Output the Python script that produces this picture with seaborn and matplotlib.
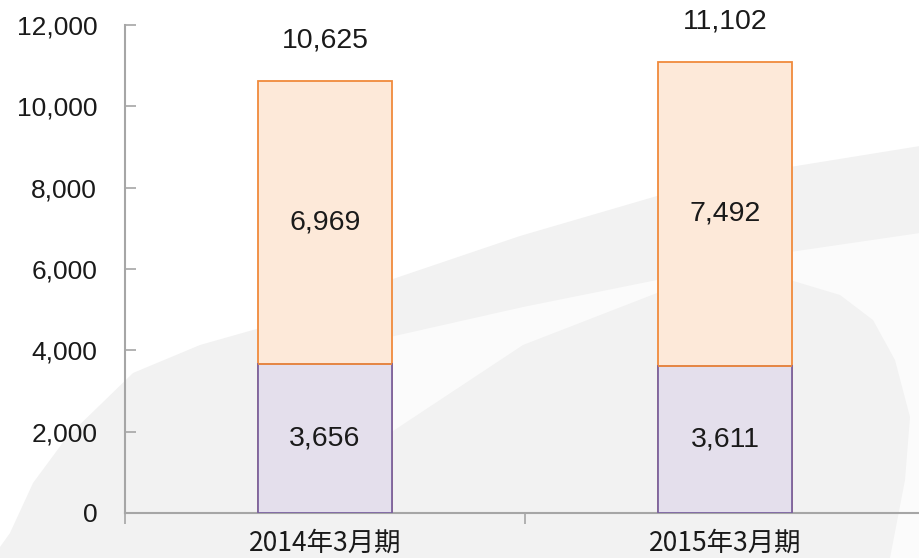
import numpy as np
import pandas as pd
import matplotlib
matplotlib.use('Agg')
import matplotlib.pyplot as plt
from matplotlib.patches import Polygon
import seaborn as sns

# --- data ---
periods = ['2014年3月期', '2015年3月期']
lower_vals = [3656, 3611]
upper_vals = [6969, 7492]
totals = [10625, 11102]

df = pd.DataFrame({'period': periods, 'lower': lower_vals,
                   'upper': upper_vals, 'total': totals})

sns.set_style('white')
plt.rcParams['font.family'] = ['Liberation Sans', 'DejaVu Sans']

W, H = 920, 558
fig = plt.figure(figsize=(W / 100, H / 100), dpi=100, facecolor='white')

# --- decorative swoosh background, drawn on its own axes behind the chart ---
bg = fig.add_axes([0, 0, 1, 1], zorder=-1)
bg.set_xlim(0, W); bg.set_ylim(H, 0); bg.axis('off')

gray_shape = [(0, 547), (10, 533), (33, 483), (67, 437), (133, 373), (200, 345),
              (260, 328), (390, 280), (520, 236), (657, 196), (790, 167),
              (920, 146), (920, 558), (0, 558)]
white_band = [(280, 420), (390, 337), (523, 307), (657, 280), (790, 252),
              (920, 233), (920, 558), (890, 558), (905, 480), (910, 417),
              (895, 360), (873, 320), (840, 295), (790, 280), (720, 283),
              (657, 293), (523, 345), (390, 433)]
bg.add_patch(Polygon(gray_shape, closed=True, facecolor='#f2f2f2', edgecolor='none'))
bg.add_patch(Polygon(white_band, closed=True, facecolor='#fbfbfb', edgecolor='none'))

ax = fig.add_axes([125 / W, (H - 513) / H, 800 / W, (513 - 25) / H])
ax.set_facecolor('none')

bar_w = 0.335
sns.barplot(data=df, x='period', y='total', color='#fde9d9', saturation=1,
            edgecolor='#f08a3c', linewidth=1.3, width=bar_w, ax=ax, zorder=2)
n_top = len(ax.patches)
sns.barplot(data=df, x='period', y='lower', color='#e4dfec', saturation=1,
            edgecolor='#7a62a0', linewidth=1.3, width=bar_w, ax=ax, zorder=3)
low_patches = ax.patches[n_top:]

# orange divider between the two segments
for p in low_patches:
    ax.plot([p.get_x(), p.get_x() + p.get_width()], [p.get_height()] * 2,
            color='#f08a3c', lw=1.3, zorder=4, solid_capstyle='butt')

# segment labels
for i in range(len(periods)):
    ax.text(i, lower_vals[i] / 2, f'{lower_vals[i]:,}', ha='center', va='center',
            fontsize=20.5, color='#1a1a1a', zorder=5)
    ax.text(i, lower_vals[i] + upper_vals[i] / 2, f'{upper_vals[i]:,}', ha='center',
            va='center', fontsize=20.5, color='#1a1a1a', zorder=5)
    ax.annotate(f'{totals[i]:,}', (i, totals[i]), xytext=(0, 29),
                textcoords='offset points', ha='center', va='center',
                fontsize=20.5, color='#1a1a1a', zorder=5, annotation_clip=False)

ax.set_xlim(-0.5, 1.5)
ax.set_ylim(0, 12000)
ax.set_yticks(np.arange(0, 12001, 2000))
ax.set_yticklabels([f'{v:,}' for v in range(0, 12001, 2000)])
ax.tick_params(axis='y', left=True, direction='in', length=8, width=1.2,
               color='#a6a6a6', labelsize=19, pad=20, labelcolor='#1a1a1a')

ax.set_xticks(range(len(periods)))
ax.set_xticklabels(periods, family=['Noto Sans CJK JP', 'DejaVu Sans'], fontsize=19)
ax.tick_params(axis='x', which='major', bottom=True, length=0, pad=12,
               labelcolor='#1a1a1a')
ax.set_xticks([-0.5, 0.5, 1.5], minor=True)
ax.tick_params(axis='x', which='minor', bottom=True, direction='out', length=8,
               width=1.2, color='#a6a6a6')

ax.set_xlabel('')
ax.set_ylabel('')
for s in ['top', 'right']:
    ax.spines[s].set_visible(False)
for s in ['left', 'bottom']:
    ax.spines[s].set_color('#a6a6a6')
    ax.spines[s].set_linewidth(1.5)

fig.savefig('out.png', dpi=100, facecolor=fig.get_facecolor())
